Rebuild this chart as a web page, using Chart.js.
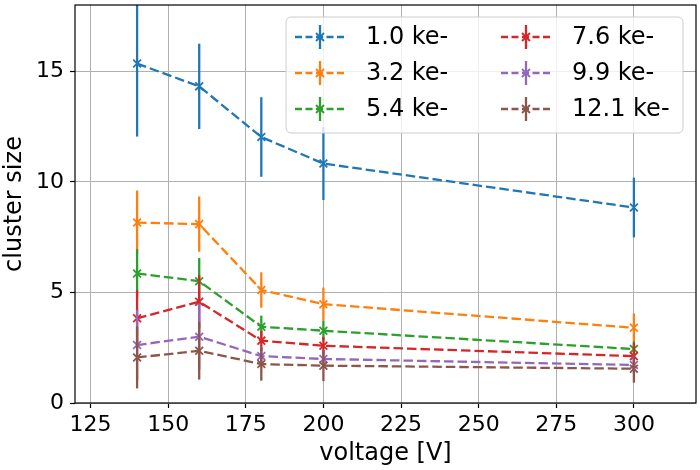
<!DOCTYPE html>
<html>
<head>
<meta charset="utf-8">
<script src="https://cdn.jsdelivr.net/npm/chart.js@4/dist/chart.umd.min.js"></script>
<style>
  body { margin: 0; background: #fff; }
  #wrap { width: 700px; height: 470px; }
</style>
</head>
<body>
<div id="wrap"><canvas id="cluster_chart" width="700" height="470"></canvas></div>
<script>
// data
const voltages = [140, 160, 180, 200, 300];
const seriesNames = ["1.0 ke-", "3.2 ke-", "5.4 ke-", "7.6 ke-", "9.9 ke-", "12.1 ke-"];
const size_1_0 = [15.35, 14.32, 12.03, 10.83, 8.84];
const size_3_2 = [8.16, 8.09, 5.11, 4.47, 3.40];
const size_5_4 = [5.86, 5.51, 3.45, 3.27, 2.44];
const size_7_6 = [3.83, 4.58, 2.82, 2.59, 2.12];
const size_9_9 = [2.62, 3.00, 2.12, 1.99, 1.72];
const size_12_1 = [2.06, 2.36, 1.76, 1.69, 1.55];
const err_1_0 = [3.3, 1.93, 1.8, 1.65, 1.35];
const err_3_2 = [1.45, 1.25, 0.8, 0.75, 0.65];
const err_5_4 = [1.1, 1.05, 0.5, 0.45, 0.35];
const err_7_6 = [1.27, 1.2, 0.45, 0.4, 0.6];
const err_9_9 = [1.6, 1.5, 0.4, 0.4, 0.4];
const err_12_1 = [1.4, 1.3, 0.75, 0.7, 0.63];
const xTicks = [125, 150, 175, 200, 225, 250, 275, 300];
const yTicks = [0, 5, 10, 15];

(function () {
  const colors = ["#1f77b4", "#ff7f0e", "#2ca02c", "#d62728", "#9467bd", "#8c564b"];
  const values = [size_1_0, size_3_2, size_5_4, size_7_6, size_9_9, size_12_1];
  const errors = [err_1_0, err_3_2, err_5_4, err_7_6, err_9_9, err_12_1];
  const FONT = "'DejaVu Sans', sans-serif";
  const DASH = [9.5, 4];

  function drawCross(ctx, x, y, r) {
    ctx.beginPath();
    ctx.moveTo(x - r, y - r); ctx.lineTo(x + r, y + r);
    ctx.moveTo(x - r, y + r); ctx.lineTo(x + r, y - r);
    ctx.stroke();
  }

  const errorBars = {
    id: "errorBars",
    beforeDatasetDraw(chart, args) {
      const { ctx, chartArea, scales } = chart;
      const i = args.index;
      ctx.save();
      ctx.beginPath();
      ctx.rect(chartArea.left, chartArea.top, chartArea.right - chartArea.left, chartArea.bottom - chartArea.top);
      ctx.clip();
      ctx.strokeStyle = colors[i];
      ctx.lineWidth = 2.3;
      voltages.forEach((v, j) => {
        const x = scales.x.getPixelForValue(v);
        const y1 = scales.y.getPixelForValue(values[i][j] - errors[i][j]);
        const y2 = scales.y.getPixelForValue(values[i][j] + errors[i][j]);
        ctx.beginPath();
        ctx.moveTo(x, y1);
        ctx.lineTo(x, y2);
        ctx.stroke();
      });
      ctx.restore();
    },
  };

  const frameAndLegend = {
    id: "frameAndLegend",
    afterDatasetsDraw(chart) {
      const { ctx, chartArea } = chart;
      ctx.save();
      ctx.strokeStyle = "#000";
      ctx.lineWidth = 1.2;
      ctx.strokeRect(chartArea.left, chartArea.top, chartArea.right - chartArea.left, chartArea.bottom - chartArea.top);

      // legend box
      const bx = 286, by = 17, bw = 397, bh = 116, r = 5;
      ctx.beginPath();
      ctx.moveTo(bx + r, by);
      ctx.arcTo(bx + bw, by, bx + bw, by + bh, r);
      ctx.arcTo(bx + bw, by + bh, bx, by + bh, r);
      ctx.arcTo(bx, by + bh, bx, by, r);
      ctx.arcTo(bx, by, bx + bw, by, r);
      ctx.closePath();
      ctx.fillStyle = "rgba(255,255,255,0.8)";
      ctx.fill();
      ctx.strokeStyle = "#cccccc";
      ctx.lineWidth = 1;
      ctx.stroke();

      ctx.font = "24px " + FONT;
      ctx.textBaseline = "middle";
      ctx.textAlign = "left";
      seriesNames.forEach((name, i) => {
        const col = Math.floor(i / 3), row = i % 3;
        const x0 = col === 0 ? 295 : 501;
        const yc = 37 + row * 36;
        ctx.strokeStyle = colors[i];
        ctx.lineWidth = 2.3;
        ctx.setLineDash([7, 3.5]);
        ctx.beginPath();
        ctx.moveTo(x0, yc);
        ctx.lineTo(x0 + 50, yc);
        ctx.stroke();
        ctx.setLineDash([]);
        ctx.beginPath();
        ctx.moveTo(x0 + 25, yc - 12);
        ctx.lineTo(x0 + 25, yc + 12);
        ctx.stroke();
        ctx.lineWidth = 1.8;
        drawCross(ctx, x0 + 25, yc, 4);
        ctx.fillStyle = "#000";
        ctx.fillText(name, x0 + 71, yc + 1);
      });
      ctx.restore();
    },
  };

  function clusterChart() {
    const ctx = document.getElementById("cluster_chart").getContext("2d");
    const datasets = seriesNames.map((name, i) => ({
      label: name,
      data: voltages.map((v, j) => ({ x: v, y: values[i][j] })),
      borderColor: colors[i],
      backgroundColor: colors[i],
      borderWidth: 2.3,
      borderDash: DASH,
      pointStyle: "crossRot",
      pointRadius: 5.5,
      pointBorderWidth: 1.8,
      pointHoverRadius: 5.5,
      tension: 0,
      fill: false,
      order: seriesNames.length - i,
    }));

    new Chart(ctx, {
      type: "line",
      data: { datasets },
      plugins: [errorBars, frameAndLegend],
      options: {
        responsive: false,
        animation: false,
        events: [],
        layout: { autoPadding: false, padding: { top: 5, right: 4, left: 0, bottom: 0 } },
        plugins: { legend: { display: false }, tooltip: { enabled: false } },
        scales: {
          x: {
            type: "linear",
            min: 120,
            max: 320,
            afterBuildTicks: (axis) => { axis.ticks = xTicks.map((v) => ({ value: v })); },
            afterFit: (axis) => { axis.height = 67; axis.paddingLeft = 0; axis.paddingRight = 0; },
            grid: { color: "#b0b0b0", lineWidth: 1, tickColor: "#000", tickLength: 5, tickWidth: 1.2 },
            border: { display: false },
            ticks: { color: "#000", font: { family: FONT, size: 22 }, padding: 4, maxRotation: 0 },
            title: { display: true, text: "voltage [V]", color: "#000", font: { family: FONT, size: 24 }, padding: { top: 0, bottom: 2 } },
          },
          y: {
            min: 0,
            max: 18,
            afterBuildTicks: (axis) => { axis.ticks = yTicks.map((v) => ({ value: v })); },
            afterFit: (axis) => { axis.width = 75; axis.paddingTop = 0; axis.paddingBottom = 0; },
            grid: { color: "#b0b0b0", lineWidth: 1, tickColor: "#000", tickLength: 5, tickWidth: 1.2 },
            border: { display: false },
            ticks: { color: "#000", font: { family: FONT, size: 22 }, padding: 6 },
            title: { display: true, text: "cluster size", color: "#000", font: { family: FONT, size: 24 }, padding: { top: 0, bottom: 4 } },
          },
        },
      },
    });
  }
  clusterChart();
})();
</script>
</body>
</html>
